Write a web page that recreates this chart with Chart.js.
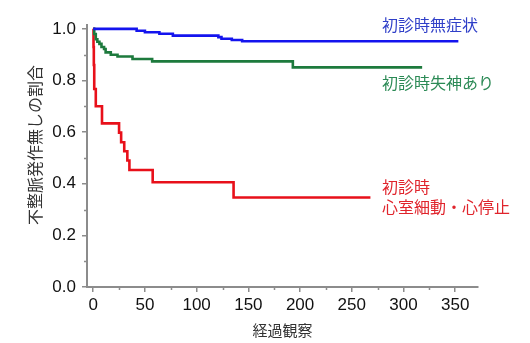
<!DOCTYPE html>
<html>
<head>
<meta charset="utf-8">
<script src="https://cdn.jsdelivr.net/npm/chart.js@4.4.1/dist/chart.umd.min.js"></script>
<style>
  html, body { margin: 0; padding: 0; background: #fff; }
</style>
</head>
<body>
<canvas id="kmChart" width="530" height="343"></canvas>
<script>
// Kaplan-Meier style curves: time of each step and the value after it
const blueTime = [0, 42, 50, 64, 77, 121, 124, 134, 144, 353];
const blueSurv = [1.0, 0.993, 0.987, 0.981, 0.974, 0.968, 0.962, 0.957, 0.952, 0.952];

const greenTime = [0, 1, 2.5, 4, 6, 8, 10.5, 12, 17, 23.5, 38, 57, 193, 318];
const greenSurv = [1.0, 0.98, 0.96, 0.95, 0.942, 0.93, 0.922, 0.909, 0.90, 0.893, 0.883, 0.874, 0.851, 0.851];

const redTime = [0, 0.3, 0.6, 1, 2.5, 8.5, 25, 27, 30, 33, 35, 57.5, 135.7, 268];
const redSurv = [1.0, 0.93, 0.86, 0.767, 0.70, 0.634, 0.598, 0.561, 0.526, 0.49, 0.453, 0.406, 0.347, 0.347];

const xTicks = [0, 50, 100, 150, 200, 250, 300, 350];
const xMinorTicks = [25, 75, 125, 175, 225, 275, 325];
const yTicks = [0, 0.2, 0.4, 0.6, 0.8, 1.0];
const yMinorTicks = [0.1, 0.3, 0.5, 0.7, 0.9];

const seriesNames = ['初診時無症状', '初診時失神あり', '初診時\n心室細動・心停止'];
const yTitle = '不整脈発作無しの割合';

const AXIS_GRAY = '#8c8c8c';
const JP_FONT = '"Noto Sans CJK JP", "Noto Sans", sans-serif';

const toPoints = (ts, ss) => ts.map((t, i) => ({ x: t, y: ss[i] }));

// minor tick marks (no labels)
const minorTicks = {
  id: 'minorTicks',
  afterDraw(chart) {
    const { ctx, scales: { x, y } } = chart;
    ctx.save();
    ctx.strokeStyle = AXIS_GRAY;
    ctx.lineWidth = 1.5;
    ctx.beginPath();
    yMinorTicks.forEach(v => {
      const py = Math.round(y.getPixelForValue(v)) + 0.5;
      ctx.moveTo(x.left - 3, py);
      ctx.lineTo(x.left, py);
    });
    xMinorTicks.forEach(v => {
      const px = Math.round(x.getPixelForValue(v)) + 0.5;
      ctx.moveTo(px, y.bottom);
      ctx.lineTo(px, y.bottom + 3);
    });
    ctx.stroke();
    ctx.restore();
  }
};

// series names beside the curves, plus the rotated y title
const seriesText = {
  id: 'seriesText',
  afterDraw(chart) {
    const { ctx } = chart;
    const spots = [
      { color: '#2f3fc8', x: 382, y: 25 },
      { color: '#2b8a55', x: 382, y: 83 },
      { color: '#e0242c', x: 382, y: 187 }
    ];
    ctx.save();
    ctx.font = '16px ' + JP_FONT;
    ctx.textBaseline = 'middle';
    ctx.textAlign = 'left';
    seriesNames.forEach((name, i) => {
      ctx.fillStyle = spots[i].color;
      name.split('\n').forEach((line, k) => {
        ctx.fillText(line, spots[i].x, spots[i].y + k * 20);
      });
    });

    ctx.translate(35, 145);
    ctx.rotate(-Math.PI / 2);
    ctx.textAlign = 'center';
    ctx.fillStyle = '#333';
    ctx.fillText(yTitle, 0, 0);
    ctx.restore();
  }
};

new Chart(document.getElementById('kmChart'), {
  type: 'line',
  data: {
    datasets: [
      { label: seriesNames[0], data: toPoints(blueTime, blueSurv), borderColor: '#1414ee' },
      { label: seriesNames[1], data: toPoints(greenTime, greenSurv), borderColor: '#1d7a3d' },
      { label: seriesNames[2], data: toPoints(redTime, redSurv), borderColor: '#e8101a' }
    ].map(ds => Object.assign(ds, {
      stepped: 'before',
      borderWidth: 2.6,
      pointRadius: 0,
      fill: false
    }))
  },
  options: {
    responsive: false,
    animation: false,
    devicePixelRatio: 1,
    layout: { padding: { top: 25, right: 52, left: 0, bottom: 0 } },
    plugins: {
      legend: { display: false },
      tooltip: { enabled: false }
    },
    scales: {
      x: {
        type: 'linear',
        min: -6,
        max: 372,
        afterBuildTicks: s => { s.ticks = xTicks.map(v => ({ value: v })); },
        afterFit: s => { s.height = 56; },
        ticks: {
          color: '#111',
          font: { family: '"Liberation Sans", Arial, sans-serif', size: 17 },
          padding: 3,
          maxRotation: 0
        },
        grid: { display: true, drawOnChartArea: false, drawTicks: true, tickLength: 5, color: AXIS_GRAY, lineWidth: 1.5 },
        border: { color: AXIS_GRAY, width: 2 },
        title: {
          display: true,
          text: '経過観察',
          color: '#333',
          font: { family: JP_FONT, size: 15 },
          padding: { top: 0, bottom: 4 }
        }
      },
      y: {
        min: 0,
        max: 1.015,
        afterBuildTicks: s => { s.ticks = yTicks.map(v => ({ value: v })); },
        afterFit: s => { s.width = 87; },
        ticks: {
          color: '#111',
          font: { family: '"Liberation Sans", Arial, sans-serif', size: 17 },
          padding: 6,
          callback: v => v.toFixed(1)
        },
        grid: { display: true, drawOnChartArea: false, drawTicks: true, tickLength: 5, color: AXIS_GRAY, lineWidth: 1.5 },
        border: { color: AXIS_GRAY, width: 2 }
      }
    }
  },
  plugins: [minorTicks, seriesText]
});
</script>
</body>
</html>
